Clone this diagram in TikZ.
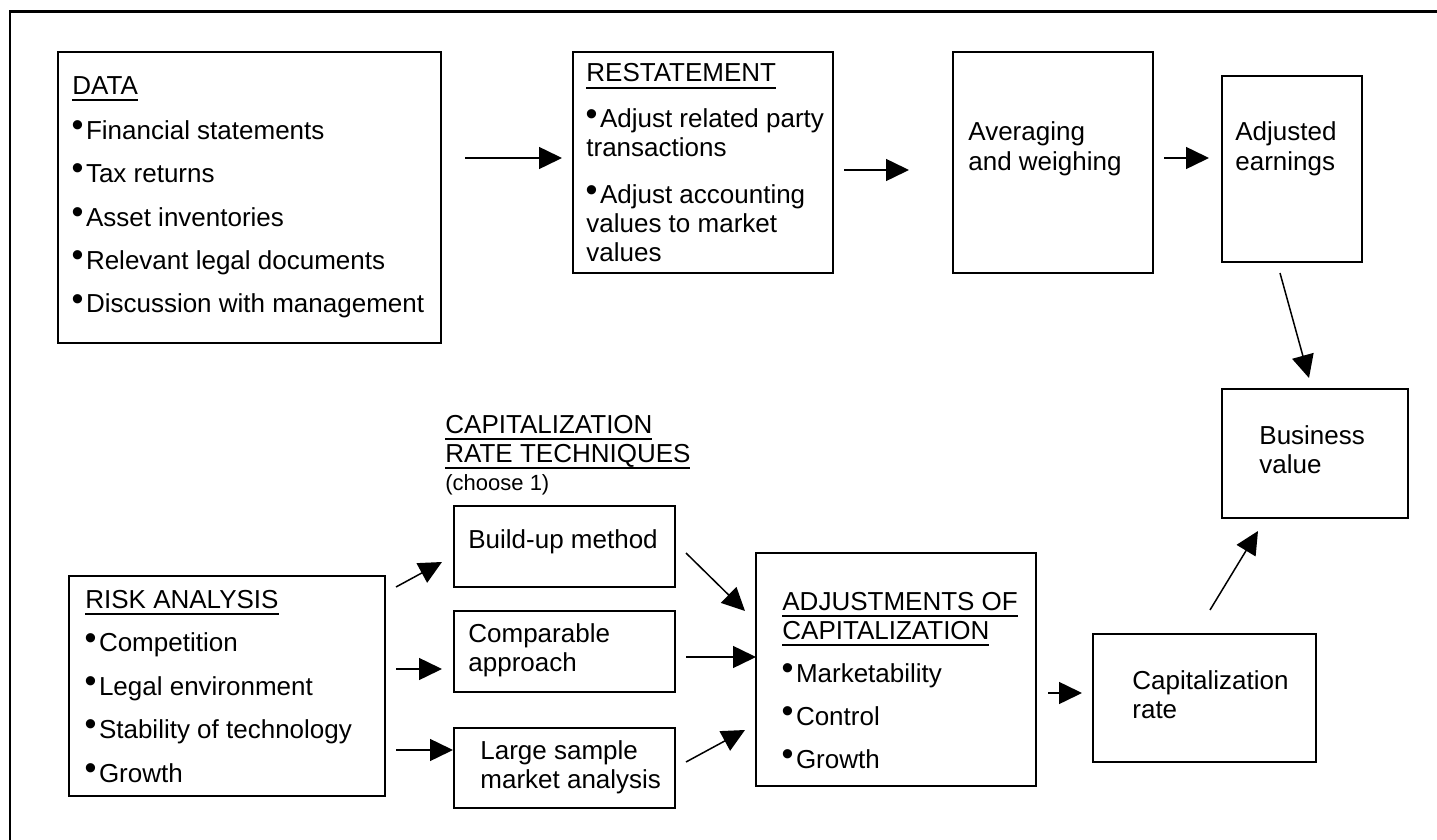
\documentclass[tikz,border=0pt]{standalone}
\usepackage{fontspec}
\setmainfont{Liberation Sans}
\usetikzlibrary{arrows.meta,fit}
\newcommand\bult{\makebox[6.8pt][l]{\hspace{-0.4pt}\raisebox{1.4pt}{\fontsize{17}{17}\selectfont •}}}
\newcommand\hd[1]{\setbox0\hbox{#1}\rlap{\rule[-3.5pt]{\wd0}{1pt}}\box0}
\begin{document}
\begin{tikzpicture}[x=0.5pt,y=-0.5pt,
  box/.style={draw,line width=1pt,inner sep=0pt},
  txt/.style={inner sep=0pt,anchor=base west,align=left,font=\fontsize{13}{14.5}\selectfont},
  list/.style={txt,font=\fontsize{13}{21.7}\selectfont},
  arr/.style={-{Triangle[length=11.5pt,width=11pt]},line width=0.75pt}]
\useasboundingbox (0,0) rectangle (1437,840);
\draw[line width=1.1pt] (10,840) -- (10,11.5) -- (1437,11.5);
% boxes
\node[box,fit={(58,52)(441,343)}] (data) {};
\node[box,fit={(573,52)(833,273)}] (rest) {};
\node[box,fit={(953,52)(1153,273)}] (avg) {};
\node[box,fit={(1222,76)(1362,262)}] (adje) {};
\node[box,fit={(1222,389)(1408,518)}] (bval) {};
\node[box,fit={(69,576)(385,796)}] (risk) {};
\node[box,fit={(454,506)(675,587)}] (bu) {};
\node[box,fit={(454,611)(675,692)}] (comp) {};
\node[box,fit={(454,728)(675,808)}] (ls) {};
\node[box,fit={(756,553)(1036,786)}] (adj) {};
\node[box,fit={(1093,634)(1316,762)}] (crate) {};
% texts (anchored at the baseline of their last line)
\node[list] (datat) at (72,313) {\hd{DATA}\\[1pt]
  \bult Financial statements\\
  \bult Tax returns\\
  \bult Asset inventories\\
  \bult Relevant legal documents\\
  \bult Discussion with management};
\node[txt] (restt) at (586,262) {\hd{RESTATEMENT}\\[8.5pt]
  \bult Adjust related party\\
  transactions\\[9pt]
  \bult Adjust accounting\\
  values to market\\
  values};
\node[txt] (avgt) at (968,170) {Averaging\\and weighing};
\node[txt] (adjet) at (1235,170) {Adjusted\\earnings};
\node[txt] (bvalt) at (1259,473) {Business\\value};
\node[list] (riskt) at (85,782) {\hd{RISK ANALYSIS}\\
  \bult Competition\\
  \bult Legal environment\\
  \bult Stability of technology\\
  \bult Growth};
\node[txt] (capt) at (445,462) {\hd{CAPITALIZATION}\\\hd{RATE TECHNIQUES}};
\node[txt,font=\fontsize{11}{13}\selectfont] (choose) at (445,490) {(choose 1)};
\node[txt] (but) at (468,548) {Build-up method};
\node[txt] (compt) at (468,671) {Comparable\\approach};
\node[txt] (lst) at (480,788) {Large sample\\market analysis};
\node[txt] (adjt) at (782,768) {\hd{ADJUSTMENTS OF}\\\hd{CAPITALIZATION}\\[7pt]
  \bult Marketability\\[7pt]
  \bult Control\\[7pt]
  \bult Growth};
\node[txt] (cratet) at (1132,718) {Capitalization\\rate};
% connector end points
\coordinate (a1s) at (465,158);  \coordinate (a1e) at (562,158);
\coordinate (a2s) at (844,170);  \coordinate (a2e) at (909,170);
\coordinate (a3s) at (1164,158); \coordinate (a3e) at (1209,158);
\coordinate (a4s) at (1280,273); \coordinate (a4e) at (1309,378);
\coordinate (a5s) at (396,587);  \coordinate (a5e) at (442,562);
\coordinate (a6s) at (396,669);  \coordinate (a6e) at (442,669);
\coordinate (a7s) at (396,750);  \coordinate (a7e) at (453,750);
\coordinate (a8s) at (686,553);  \coordinate (a8e) at (745,611);
\coordinate (a9s) at (686,657);  \coordinate (a9e) at (756,657);
\coordinate (a10s) at (686,762); \coordinate (a10e) at (745,730);
\coordinate (a11s) at (1048,693); \coordinate (a11e) at (1082,693);
\coordinate (a12s) at (1210,610); \coordinate (a12e) at (1258,531);
\foreach \i in {1,...,12} \draw[arr] (a\i s) -- (a\i e);
\end{tikzpicture}
\end{document}
